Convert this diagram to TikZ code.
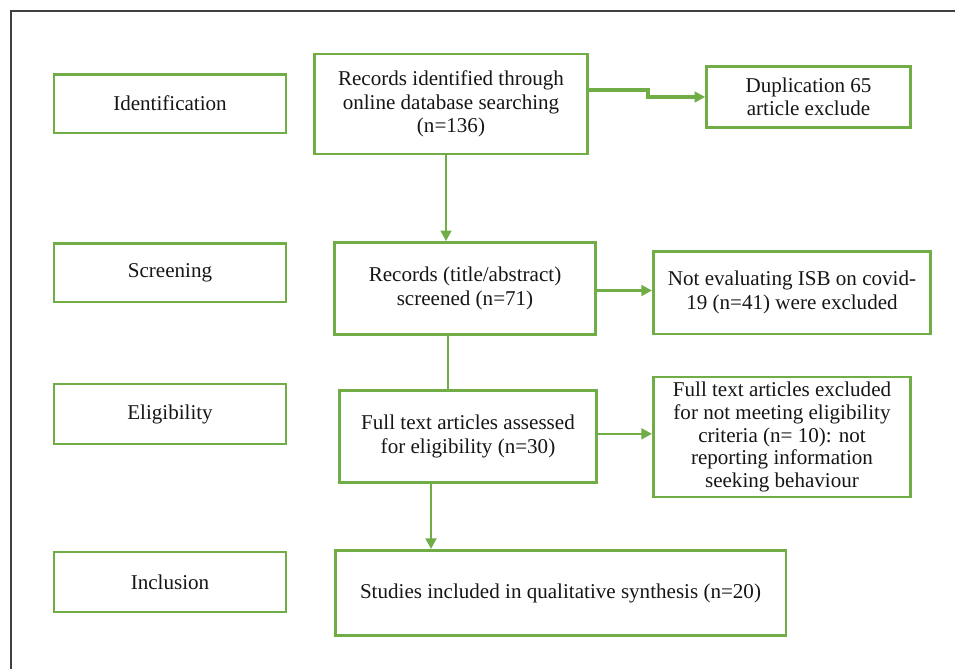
\documentclass[tikz,border=0pt]{standalone}
\usepackage{fontspec}
\setmainfont{Liberation Serif}
\usetikzlibrary{arrows.meta,calc}
\definecolor{grn}{HTML}{70AD47}
\definecolor{txt}{HTML}{161616}
\begin{document}
\begin{tikzpicture}[x=0.75pt,y=-0.75pt,
  box/.style={draw=grn,line width=2pt,inner sep=0pt,align=center,text=txt,
    font=\fontsize{15.8}{17.4}\selectfont},
  conn/.style={draw=grn,line width=2pt,-{Triangle[length=8pt,width=8pt]}},
  plain/.style={draw=grn,line width=2pt}]
\useasboundingbox (0,0) rectangle (955,668);
\draw[line width=1.1pt,draw=black!75] (11,11) rectangle (962,680);
% left column
\node[box,minimum width=174pt,minimum height=44pt] (ident) at (170,103.5) {Identification};
\node[box,minimum width=174pt,minimum height=44pt] (screen) at (170,272.5) {Screening};
\node[box,minimum width=174pt,minimum height=45pt] (elig) at (170,414) {Eligibility};
\node[box,minimum width=174pt,minimum height=45pt] (incl) at (170,582) {Inclusion};
% main column
\node[box,minimum width=205pt,minimum height=75pt] (rec) at (451,104)
  {Records identified through\\online database searching\\(n=136)};
\node[box,minimum width=153pt,minimum height=46pt] (dup) at (808.5,97)
  {Duplication 65\\article exclude};
\node[box,minimum width=196pt,minimum height=69pt] (scr) at (465,288.5)
  {Records (title/abstract)\\screened (n=71)};
\node[box,minimum width=208pt,minimum height=62pt] (noteval) at (792,292.5)
  {Not evaluating ISB on covid-\\19 (n=41) were excluded};
\node[box,minimum width=193pt,minimum height=69pt] (full) at (468,436.5)
  {Full text articles assessed\\for eligibility (n=30)};
\node[box,minimum width=193pt,minimum height=90pt,
  font=\fontsize{15.8}{17.2}\selectfont] (fullex) at (782,437)
  {Full text articles excluded\\for not meeting eligibility\\criteria (n= 10): not\\reporting information\\seeking behaviour};
\node[box,minimum width=338pt,minimum height=64pt] (studies) at (560.5,593)
  {Studies included in qualitative synthesis (n=20)};
% connectors
\draw[conn,line width=2.8pt] ([yshift=10.5pt]rec.east) -- ++(59,0) |- (dup.west);
\draw[conn] ([xshift=-3.75pt]rec.south) -- ([xshift=-3.75pt]rec.south |- scr.north);
\draw[conn] ([yshift=-1.5pt]scr.east) -- ([yshift=-1.5pt]scr.east -| noteval.west);
\draw[plain] ([xshift=-12.75pt]scr.south) -- ([xshift=-12.75pt]scr.south |- full.north);
\draw[conn] ([yshift=2pt]full.east) -- ([yshift=2pt]full.east -| fullex.west);
\draw[conn] ([xshift=-27.75pt]full.south) -- ([xshift=-27.75pt]full.south |- studies.north);
\end{tikzpicture}
\end{document}
